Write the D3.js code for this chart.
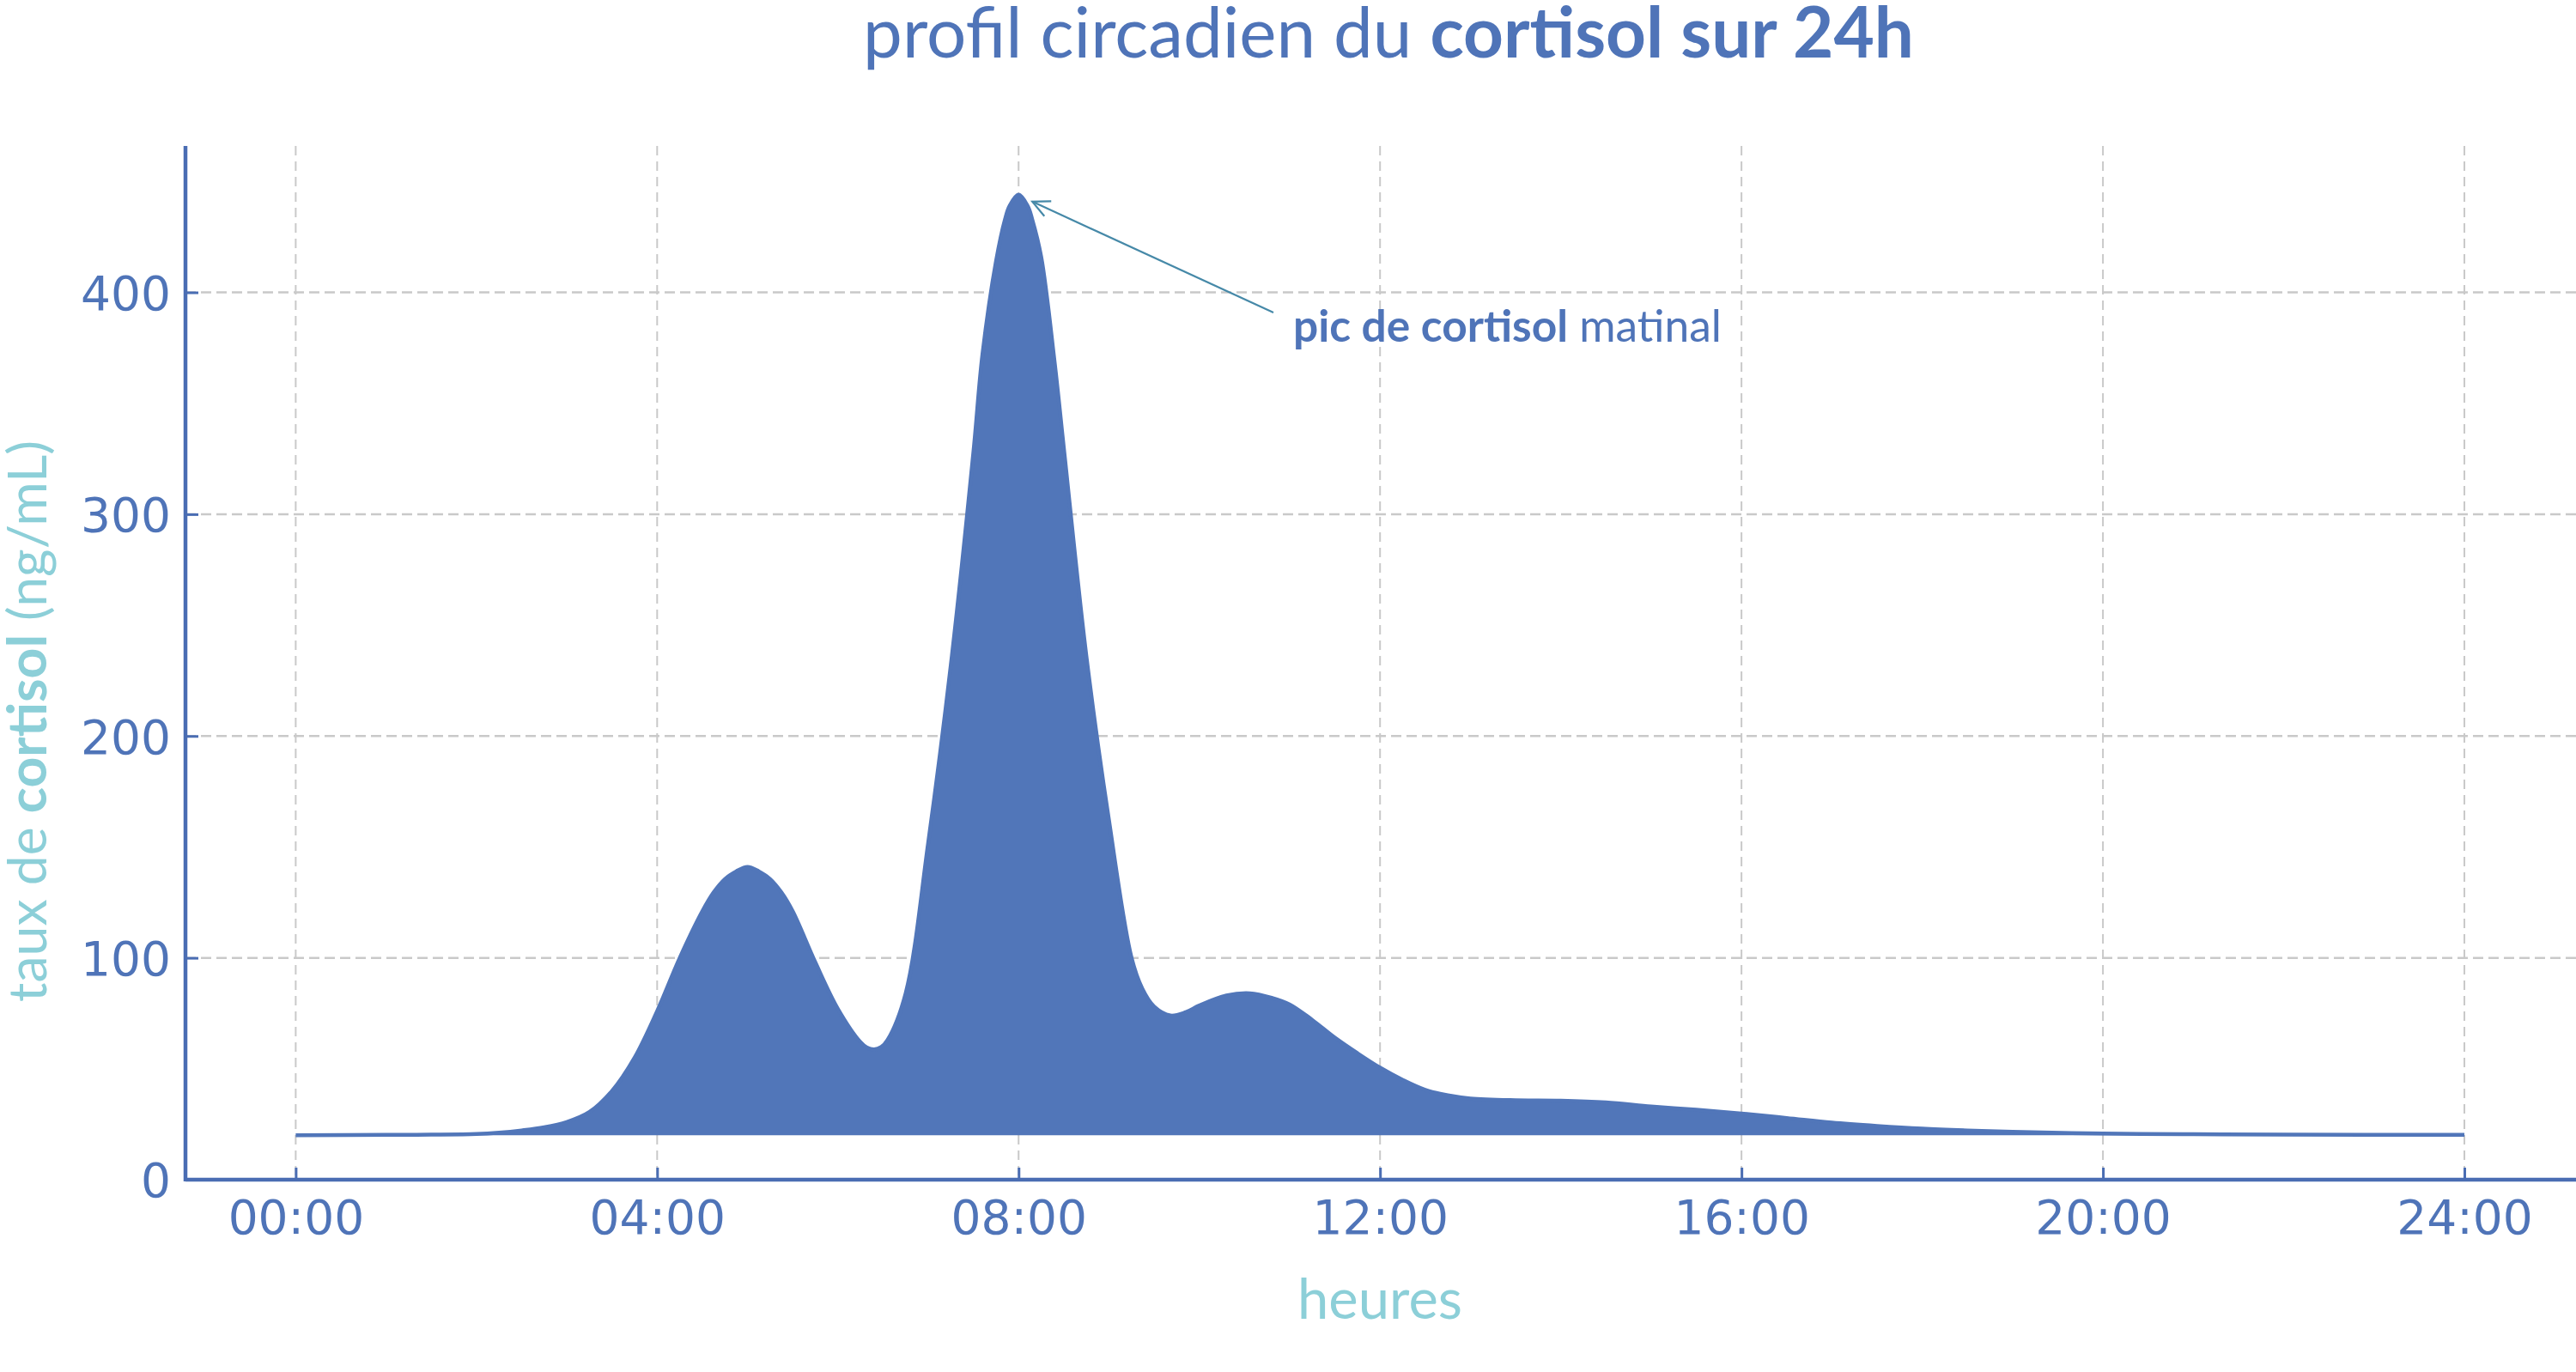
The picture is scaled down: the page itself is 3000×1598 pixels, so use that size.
<!DOCTYPE html>
<html>
<head>
<meta charset="utf-8">
<script src="https://cdnjs.cloudflare.com/ajax/libs/d3/7.8.5/d3.min.js"></script>
<style>
  html, body { margin: 0; padding: 0; background: #ffffff; }
  svg { display: block; }
</style>
</head>
<body>
<svg id="chart" width="3000" height="1598"></svg>
<script>
// ---- data ----
const hours = [0, 1, 1.5, 2, 2.25, 2.5, 2.75, 3, 3.25, 3.5, 3.75, 4, 4.25, 4.5, 4.625, 4.75, 4.875, 5, 5.125, 5.25, 5.375, 5.5, 5.75, 6, 6.25, 6.32, 6.4, 6.48, 6.55, 6.75, 7, 7.25, 7.5, 7.6, 7.75, 7.85, 7.9, 8, 8.1, 8.15, 8.25, 8.4, 8.5, 8.75, 9, 9.25, 9.37, 9.5, 9.68, 9.85, 10, 10.3, 10.56, 10.8, 11.0, 11.25, 11.5, 11.75, 12, 12.25, 12.5, 12.75, 13, 13.5, 14, 14.5, 15, 15.5, 16, 16.5, 17, 17.5, 18, 18.5, 19, 20, 21, 22, 24];
const cortisol = [20.0, 20.2, 20.3, 20.6, 21.2, 22.2, 23.6, 26, 30.5, 40, 55, 76, 100, 121, 129.5, 135.5, 139, 141, 139, 135.5, 129.5, 121, 98, 77, 62, 59.6, 58.7, 59.8, 63, 84, 152, 232, 328, 372, 414, 433, 439, 444, 439, 433, 416, 368, 330, 236, 162, 100, 86, 78, 74, 75.5, 78.5, 83, 84, 82, 79, 72, 64, 57, 50.5, 45, 40.5, 38, 36.6, 35.8, 35.6, 34.8, 33.0, 31.5, 29.8, 27.8, 25.7, 24.2, 23.0, 22.2, 21.6, 20.8, 20.5, 20.3, 20.2];
const baseline = 20;
const xTicks = [0, 4, 8, 12, 16, 20, 24];
const xTickLabels = ["00:00", "04:00", "08:00", "12:00", "16:00", "20:00", "24:00"];
const yTicks = [0, 100, 200, 300, 400];
const yTickLabels = ["0", "100", "200", "300", "400"];
const peakHour = 8, peakValue = 444;

(function () {
// ---- style ----
const blue = "#5176b9", axisBlue = "#4a6db3", textBlue = "#4f74b8", teal = "#8ccfd8", arrowCol = "#4689a8", gridCol = "#c9c9c9";
const labelFont = "Lato, 'Noto Sans', sans-serif";
const tickFont = "'DejaVu Sans', sans-serif";

const svg = d3.select("#chart");
const x = d3.scaleLinear().domain([-1.2, 25.2]).range([218.1, 2996.3]);
const y = d3.scaleLinear().domain([0, 466]).range([1374, 170]);
const pLeft = 216, pRight = 3000, pTop = 170, pBottom = 1374;

// gridlines
svg.append("g").selectAll("line").data(xTicks).join("line")
  .attr("x1", d => x(d)).attr("x2", d => x(d)).attr("y1", pTop).attr("y2", pBottom)
  .attr("stroke", gridCol).attr("stroke-width", 2).attr("stroke-dasharray", "11,7");
svg.append("g").selectAll("line").data(yTicks.filter(d => d > 0)).join("line")
  .attr("x1", pLeft).attr("x2", pRight).attr("y1", d => y(d)).attr("y2", d => y(d))
  .attr("stroke", gridCol).attr("stroke-width", 2.5).attr("stroke-dasharray", "12,6");

// area + line
const pts = hours.map((h, i) => [h, cortisol[i]]);
const curve = d3.curveCatmullRom.alpha(0.5);
const area = d3.area().x(d => x(d[0])).y0(y(baseline)).y1(d => y(d[1])).curve(curve);
const line = d3.line().x(d => x(d[0])).y(d => y(d[1])).curve(curve);
svg.append("path").datum(pts).attr("d", area).attr("fill", blue);
svg.append("path").datum(pts).attr("d", line).attr("fill", "none").attr("stroke", blue).attr("stroke-width", 4.5);

// axes
const xAxis = d3.axisBottom(x).tickValues(xTicks).tickFormat((d, i) => xTickLabels[i]).tickSizeInner(-14).tickSizeOuter(0).tickPadding(34);
const yAxis = d3.axisLeft(y).tickValues(yTicks).tickFormat((d, i) => yTickLabels[i]).tickSizeInner(-15).tickSizeOuter(0).tickPadding(17);
const gx = svg.append("g").attr("transform", `translate(0,${pBottom})`).call(xAxis);
const gy = svg.append("g").attr("transform", `translate(${pLeft},0)`).call(yAxis);
gx.select(".domain").remove();
gy.select(".domain").remove();
[gx, gy].forEach(g => {
  g.selectAll(".tick line").attr("stroke", axisBlue).attr("stroke-width", 3);
  g.selectAll(".tick text").attr("fill", textBlue).attr("font-family", tickFont).attr("font-size", 55);
});
gx.selectAll(".tick text").attr("dy", 0).attr("y", 63);
gy.selectAll(".tick text").attr("dy", "0.36em").attr("x", -17);
svg.append("line").attr("x1", pLeft).attr("x2", pRight).attr("y1", pBottom).attr("y2", pBottom)
  .attr("stroke", axisBlue).attr("stroke-width", 4.5);
svg.append("line").attr("x1", pLeft).attr("x2", pLeft).attr("y1", pTop).attr("y2", pBottom + 2)
  .attr("stroke", axisBlue).attr("stroke-width", 4.5);

// text helper: mixed weights, fitted to a target width
function richText(parent, parts, opts) {
  const t = parent.append("text").attr("font-family", labelFont).attr("fill", opts.fill)
    .attr("font-size", 60);
  parts.forEach(p => t.append("tspan").attr("font-weight", p[1]).text(p[0]));
  const w = t.node().getComputedTextLength();
  t.attr("font-size", 60 * opts.width / w);
  return t;
}

// title
const title = richText(svg, [["profil circadien du ", 400], ["cortisol sur 24h", 700]], {fill: textBlue, width: 1224});
title.attr("text-anchor", "middle").attr("x", 1617).attr("y", 67);

// x label
const xl = richText(svg, [["heures", 400]], {fill: teal, width: 192});
xl.attr("text-anchor", "middle").attr("x", 1607).attr("y", 1536);

// y label
const yl = richText(svg, [["taux de ", 400], ["cortisol", 700], [" (ng/mL)", 400]], {fill: teal, width: 654});
yl.attr("text-anchor", "middle").attr("transform", "translate(54,840) rotate(-90)");

// annotation
const ann = richText(svg, [["pic de cortisol", 700], [" matinal", 400]], {fill: textBlue, width: 499});
ann.attr("x", 1506).attr("y", 398);

// arrow
const ax0 = 1483, ay0 = 364;
const ax1 = x(peakHour) + 16, ay1 = y(peakValue) + 8;
svg.append("line").attr("x1", ax0).attr("y1", ay0).attr("x2", ax1).attr("y2", ay1)
  .attr("stroke", arrowCol).attr("stroke-width", 2.2);
const ang = Math.atan2(ay0 - ay1, ax0 - ax1);
const hl = 22, spread = 0.45;
const head = d3.path();
head.moveTo(ax1 + hl * Math.cos(ang - spread), ay1 + hl * Math.sin(ang - spread));
head.lineTo(ax1, ay1);
head.lineTo(ax1 + hl * Math.cos(ang + spread), ay1 + hl * Math.sin(ang + spread));
svg.append("path").attr("d", head.toString()).attr("fill", "none").attr("stroke", arrowCol).attr("stroke-width", 2.2);
})();
</script>
</body>
</html>
